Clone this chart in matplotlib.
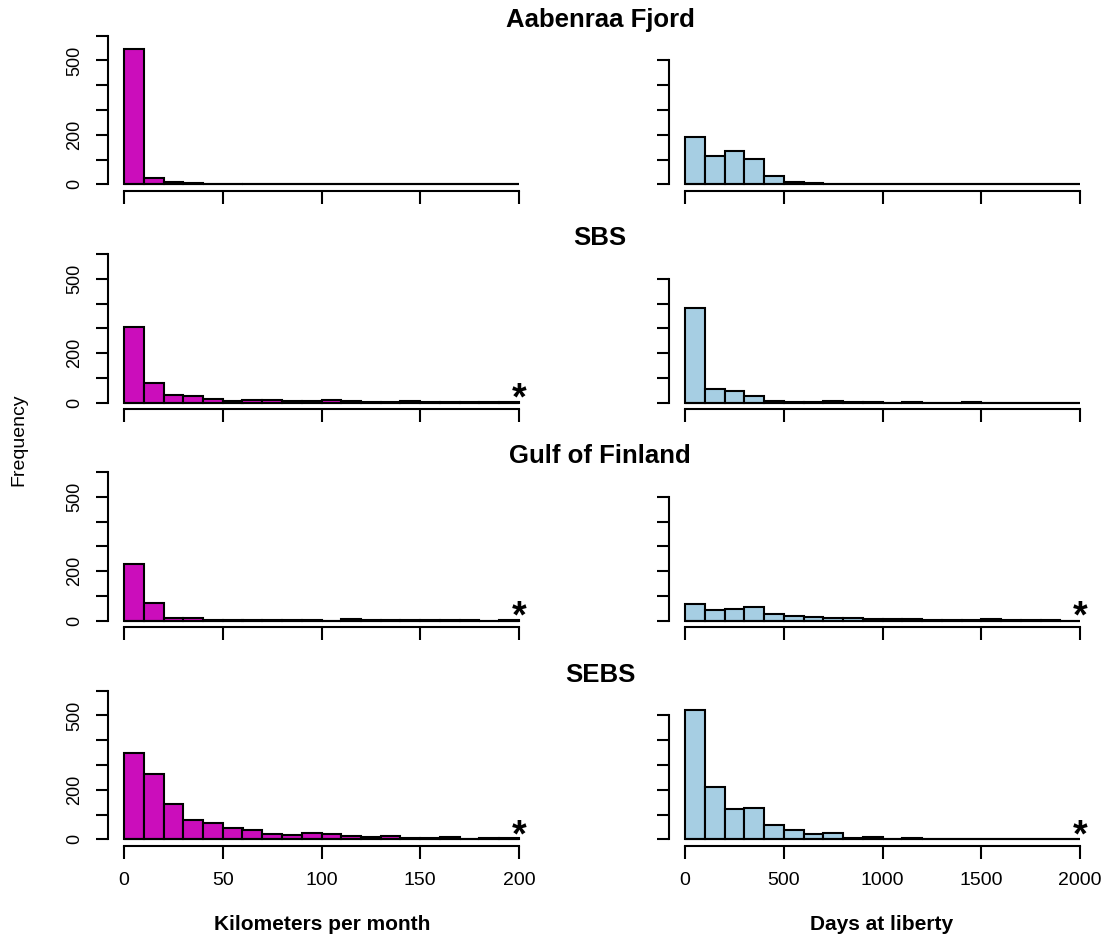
import numpy as np
import matplotlib
matplotlib.use("Agg")
import matplotlib.pyplot as plt

plt.rcParams['font.family'] = ['Liberation Sans', 'DejaVu Sans']

# ---------------- data ----------------
regions = ["Aabenraa Fjord", "SBS", "Gulf of Finland", "SEBS"]

km_edges = np.arange(0, 201, 10)
days_edges = np.arange(0, 2001, 100)

km_aabenraa = [546, 25, 11, 6, 3, 3, 2, 2, 2, 1, 0, 0, 0, 0, 0, 0, 0, 0, 0, 0]
km_sbs = [307, 78, 31, 28, 15, 6, 9, 12, 8, 8, 12, 5, 4, 3, 6, 3, 3, 1, 1, 4]
km_gulf = [230, 73, 12, 10, 4, 3, 4, 4, 2, 2, 0, 5, 2, 1, 1, 2, 1, 1, 0, 1]
km_sebs = [350, 262, 144, 78, 66, 44, 39, 23, 19, 25, 20, 15, 10, 13, 6, 6, 10, 3, 6, 6]

days_aabenraa = [190, 114, 136, 101, 33, 11, 6, 3, 3, 1, 0, 0, 3, 0, 0, 0, 0, 0, 0, 0]
days_sbs = [384, 55, 47, 26, 7, 4, 3, 6, 1, 1, 0, 3, 0, 0, 3, 0, 0, 0, 0, 0]
days_gulf = [67, 43, 46, 54, 28, 18, 15, 11, 11, 7, 7, 7, 2, 4, 1, 5, 2, 1, 1, 0]
days_sebs = [522, 212, 122, 126, 56, 38, 21, 27, 7, 8, 2, 5, 1, 0, 0, 0, 0, 0, 0, 0]

km_counts = [km_aabenraa, km_sbs, km_gulf, km_sebs]
days_counts = [days_aabenraa, days_sbs, days_gulf, days_sebs]

# truncated-tail markers (asterisk) per row
km_star = [False, True, True, True]
days_star = [False, False, True, True]

km_ticks = [0, 50, 100, 150, 200]
days_ticks = [0, 500, 1000, 1500, 2000]
left_yticks = [0, 100, 200, 300, 400, 500, 600]
right_yticks = [0, 100, 200, 300, 400, 500]
labelled_y = {0: "0", 200: "200", 500: "500"}

km_color = "#CB0DBB"
days_color = "#A6CEE3"

# ---------------- layout ----------------
W, H = 1110, 943
fig = plt.figure(figsize=(W / 100, H / 100), dpi=100)

baselines = [184.3, 402.7, 620.7, 839.3]
px_per_unit = 0.2477
y_lo, y_hi = -27, 676
ax_h_px = (y_hi - y_lo) * px_per_unit

left_x0, left_x1 = 108.2, 534.8
right_x0, right_x1 = 669.2, 1095.8

LW = 1.5
TICKLEN = 9

def style_axis(ax, xlim, xticks, yticks, ytick_labels, spine_top, show_xlabels):
    ax.set_xlim(*xlim)
    ax.set_ylim(y_lo, y_hi)
    for s in ["top", "right"]:
        ax.spines[s].set_visible(False)
    ax.spines["left"].set_bounds(0, spine_top)
    ax.spines["bottom"].set_bounds(xticks[0], xticks[-1])
    ax.spines["left"].set_linewidth(LW)
    ax.spines["bottom"].set_linewidth(LW)
    ax.set_xticks(xticks)
    ax.set_yticks(yticks)
    if ytick_labels:
        ax.set_yticklabels([labelled_y.get(t, "") for t in yticks],
                           rotation=90, va="center", fontsize=13)
    else:
        ax.set_yticklabels([])
    if show_xlabels:
        ax.set_xticklabels([str(t) for t in xticks], fontsize=14)
    else:
        ax.set_xticklabels([])
    ax.tick_params(axis="both", length=TICKLEN, width=LW, direction="out")
    ax.tick_params(axis="x", pad=10)
    ax.tick_params(axis="y", pad=9)
    ax.patch.set_visible(False)

for i in range(4):
    bottom_px = baselines[i] + (-y_lo) * px_per_unit
    b = (H - bottom_px) / H
    h = ax_h_px / H
    axL = fig.add_axes([left_x0 / W, b, (left_x1 - left_x0) / W, h])
    axR = fig.add_axes([right_x0 / W, b, (right_x1 - right_x0) / W, h])

    axL.bar(km_edges[:-1], km_counts[i], width=np.diff(km_edges), align="edge",
            color=km_color, edgecolor="black", linewidth=LW)
    axR.bar(days_edges[:-1], days_counts[i], width=np.diff(days_edges), align="edge",
            color=days_color, edgecolor="black", linewidth=LW)
    axL.hlines(0, km_edges[0], km_edges[-1], color="black", linewidth=LW)
    axR.hlines(0, days_edges[0], days_edges[-1], color="black", linewidth=LW)

    style_axis(axL, (-8, 208), km_ticks, left_yticks, True, 600, i == 3)
    style_axis(axR, (-80, 2080), days_ticks, right_yticks, False, 500, i == 3)

    if km_star[i]:
        axL.annotate("*", xy=(km_edges[-1], 0), xytext=(0, -5), textcoords="offset points",
                     ha="center", va="baseline", fontsize=27, fontweight="bold")
    if days_star[i]:
        axR.annotate("*", xy=(days_edges[-1], 0), xytext=(0, -5), textcoords="offset points",
                     ha="center", va="baseline", fontsize=27, fontweight="bold")

    fig.text(600 / W, 1 - (baselines[i] - 164.5) / H, regions[i],
             ha="center", va="center", fontsize=18.5, fontweight="bold")

fig.text(322 / W, 1 - 924 / H, "Kilometers per month", ha="center", va="center",
         fontsize=15, fontweight="bold")
fig.text(882 / W, 1 - 924 / H, "Days at liberty", ha="center", va="center",
         fontsize=15, fontweight="bold")
fig.text(19 / W, 1 - 440 / H, "Frequency", ha="center", va="center",
         rotation=90, fontsize=14)

fig.savefig("out.png", dpi=100, facecolor="white")
